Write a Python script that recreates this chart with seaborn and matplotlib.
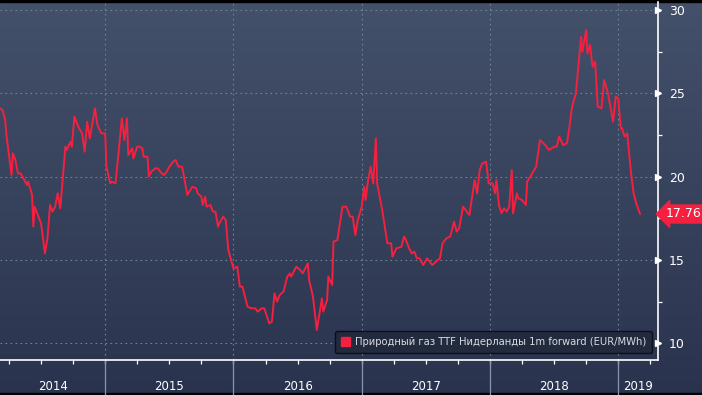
import numpy as np
import pandas as pd
import matplotlib
matplotlib.use('Agg')
import matplotlib.pyplot as plt
from matplotlib.patches import Patch
import seaborn as sns

# TTF 1m forward, decimal year vs EUR/MWh
years = [
    2014.18, 2014.20, 2014.22, 2014.23, 2014.27, 2014.28, 2014.30, 2014.32, 2014.34, 2014.37,
    2014.39, 2014.40, 2014.43, 2014.44, 2014.45, 2014.48, 2014.50, 2014.53, 2014.55, 2014.57,
    2014.59, 2014.61, 2014.63, 2014.65, 2014.69, 2014.70, 2014.73, 2014.74, 2014.76, 2014.79,
    2014.82, 2014.84, 2014.86, 2014.88, 2014.92, 2014.94, 2014.97, 2015.00, 2015.01, 2015.04,
    2015.05, 2015.08, 2015.10, 2015.13, 2015.15, 2015.17, 2015.18, 2015.21, 2015.22, 2015.25,
    2015.27, 2015.29, 2015.30, 2015.33, 2015.34, 2015.36, 2015.39, 2015.41, 2015.44, 2015.46,
    2015.48, 2015.50, 2015.53, 2015.55, 2015.57, 2015.60, 2015.61, 2015.64, 2015.68, 2015.71,
    2015.72, 2015.75, 2015.76, 2015.78, 2015.79, 2015.82, 2015.84, 2015.86, 2015.88, 2015.89,
    2015.92, 2015.94, 2015.96, 2016.00, 2016.03, 2016.05, 2016.07, 2016.11, 2016.14, 2016.17,
    2016.19, 2016.22, 2016.24, 2016.28, 2016.30, 2016.32, 2016.34, 2016.36, 2016.39, 2016.42,
    2016.44, 2016.45, 2016.49, 2016.52, 2016.54, 2016.58, 2016.59, 2016.62, 2016.65, 2016.69,
    2016.70, 2016.73, 2016.74, 2016.77, 2016.78, 2016.81, 2016.83, 2016.85, 2016.88, 2016.91,
    2016.93, 2016.95, 2016.97, 2017.00, 2017.02, 2017.03, 2017.05, 2017.07, 2017.09, 2017.11,
    2017.12, 2017.16, 2017.18, 2017.20, 2017.23, 2017.24, 2017.27, 2017.31, 2017.33, 2017.34,
    2017.37, 2017.39, 2017.41, 2017.43, 2017.45, 2017.48, 2017.51, 2017.55, 2017.58, 2017.61,
    2017.63, 2017.66, 2017.69, 2017.72, 2017.74, 2017.76, 2017.79, 2017.81, 2017.84, 2017.88,
    2017.90, 2017.92, 2017.94, 2017.97, 2017.99, 2018.02, 2018.04, 2018.05, 2018.07, 2018.09,
    2018.11, 2018.13, 2018.15, 2018.17, 2018.18, 2018.21, 2018.22, 2018.25, 2018.28, 2018.29,
    2018.33, 2018.36, 2018.39, 2018.43, 2018.46, 2018.50, 2018.52, 2018.54, 2018.57, 2018.60,
    2018.62, 2018.64, 2018.67, 2018.71, 2018.72, 2018.75, 2018.76, 2018.78, 2018.80, 2018.82,
    2018.84, 2018.87, 2018.89, 2018.92, 2018.96, 2018.98, 2019.00, 2019.02, 2019.03, 2019.05,
    2019.07, 2019.10, 2019.12, 2019.14, 2019.17,
]
prices = [
    24.1, 24.0, 23.4, 22.5, 20.1, 21.4, 21.0, 20.2, 20.2, 19.8,
    19.5, 19.7, 18.9, 17.0, 18.2, 17.6, 17.2, 15.4, 16.3, 18.3,
    17.9, 18.2, 19.0, 18.1, 21.8, 21.6, 22.1, 21.8, 23.6, 23.0,
    22.6, 21.5, 23.3, 22.3, 24.1, 23.1, 22.6, 22.6, 20.6, 19.6,
    19.7, 19.6, 21.1, 23.5, 22.2, 23.5, 21.3, 21.7, 21.1, 21.8,
    21.8, 21.7, 21.2, 21.2, 20.0, 20.3, 20.5, 20.5, 20.2, 20.1,
    20.3, 20.6, 20.9, 21.0, 20.6, 20.6, 20.2, 18.9, 19.4, 19.3,
    19.0, 18.8, 18.3, 18.8, 18.2, 18.3, 17.9, 17.9, 17.0, 17.2,
    17.6, 17.4, 15.6, 14.5, 14.6, 13.4, 13.4, 12.2, 12.1, 12.1,
    11.9, 12.1, 12.1, 11.2, 11.3, 13.0, 12.5, 12.9, 13.1, 14.0,
    14.2, 14.0, 14.6, 14.4, 14.2, 14.8, 13.8, 12.8, 10.8, 12.7,
    11.9, 12.6, 14.0, 13.5, 16.1, 16.2, 17.2, 18.2, 18.2, 17.6,
    17.6, 16.5, 17.4, 18.2, 19.4, 18.6, 19.8, 20.6, 19.6, 22.3,
    19.6, 18.0, 17.0, 16.0, 16.0, 15.2, 15.7, 15.8, 16.4, 16.3,
    15.7, 15.4, 15.5, 15.1, 15.1, 14.7, 15.1, 14.7, 14.9, 15.1,
    16.0, 16.3, 16.4, 17.3, 16.7, 16.9, 18.2, 18.0, 17.7, 19.8,
    19.0, 20.4, 20.8, 20.9, 19.6, 19.6, 19.0, 19.8, 18.3, 17.8,
    18.1, 17.9, 18.2, 20.4, 17.8, 19.0, 18.7, 18.6, 18.3, 19.7,
    20.2, 20.6, 22.2, 21.9, 21.6, 21.8, 21.8, 22.4, 21.9, 22.0,
    23.0, 24.2, 25.0, 28.4, 27.5, 28.8, 27.4, 27.9, 26.6, 26.9,
    24.2, 24.1, 25.8, 25.0, 23.3, 24.8, 24.7, 22.9, 22.9, 22.4,
    22.6, 20.2, 19.0, 18.4, 17.76,
]
year_labels = ['2014', '2015', '2016', '2017', '2018', '2019']
y_ticks = [10, 15, 20, 25, 30]
series_name = 'Природный газ TTF Нидерланды 1m forward (EUR/MWh)'
last_price = prices[-1]

df = pd.DataFrame({'year': years, 'price': prices})

sns.set_theme(style='dark')
plt.rcParams['font.family'] = ['DejaVu Sans']

RED = '#f5203f'
GRID = '#6e8299'

fig = plt.figure(figsize=(7.02, 3.95), dpi=100)

# gradient background over the whole figure
bg = fig.add_axes([0, 0, 1, 1], zorder=-10)
grad = np.linspace(0, 1, 256).reshape(-1, 1)
cmap = matplotlib.colors.LinearSegmentedColormap.from_list('bg', ['#44516b', '#2a334e'])
bg.imshow(grad, aspect='auto', cmap=cmap, extent=[0, 1, 0, 1], origin='upper')
bg.axhspan(0.995, 1.0, color='black')
bg.axhspan(0.0, 0.005, color='black')
bg.set_xlim(0, 1)
bg.set_ylim(0, 1)
bg.axis('off')

ax = fig.add_axes([0, 35 / 395, 658 / 702, 358 / 395])
ax.set_facecolor('none')

sns.lineplot(data=df, x='year', y='price', color=RED, linewidth=1.4, ax=ax)

ax.set_xlim(2014.18, 2019.31)
ax.set_ylim(9.0, 30.48)
ax.set_xlabel('')
ax.set_ylabel('')

# dotted grid
for v in y_ticks:
    ax.axhline(v, color=GRID, linestyle=(0, (1.5, 3)), linewidth=0.8, zorder=0)
for y in range(2015, 2020):
    ax.axvline(y, color=GRID, linestyle=(0, (1.5, 3)), linewidth=0.8, zorder=0)
    ax.axvline(y, ymin=-0.1, ymax=0, color='#8c95aa', linewidth=0.9, clip_on=False)

for s in ['top', 'left']:
    ax.spines[s].set_visible(False)
for s in ['right', 'bottom']:
    ax.spines[s].set_color('white')
    ax.spines[s].set_linewidth(1.2)

# quarter ticks on x, year labels centred in each year
quarters = np.arange(2014.25, 2019.31, 0.25)
ax.set_xticks(quarters)
ax.set_xticklabels([])
ax.tick_params(axis='x', direction='out', length=3, width=0.9, color='white', bottom=True)
xtr = ax.get_xaxis_transform()
for i, lab in enumerate(year_labels):
    lo = max(2014 + i, 2014.18)
    hi = min(2015 + i, 2019.31)
    ax.text((lo + hi) / 2, -0.075, lab, transform=xtr, ha='center', va='center',
            color='white', fontsize=8.5)

# right axis: labelled ticks with small arrows, minor ticks in between
ax.yaxis.tick_right()
ax.set_yticks(y_ticks)
ax.set_yticklabels([str(v) for v in y_ticks], color='white', fontsize=9)
ax.tick_params(axis='y', right=True, length=0, pad=8)
ax.set_yticks([12.5, 17.5, 22.5, 27.5], minor=True)
ax.tick_params(axis='y', which='minor', right=True, length=3, width=0.9, color='white')
ytr = ax.get_yaxis_transform()
ax.plot([1.0] * len(y_ticks), y_ticks, linestyle='none', marker='>', markersize=5,
        color='white', transform=ytr, clip_on=False)

# last value tag
ax.text(1.012, last_price, f'{last_price:.2f}', transform=ytr, ha='left', va='center',
        color='white', fontsize=9,
        bbox=dict(boxstyle='larrow,pad=0.2', facecolor=RED, edgecolor=RED))

leg = ax.legend(handles=[Patch(facecolor=RED, edgecolor=RED, label=series_name)],
                loc='lower right', bbox_to_anchor=(0.999, 0.006), fontsize=7.2,
                frameon=True, fancybox=True, facecolor='#222a3e', edgecolor='#0c0f18',
                handlelength=0.9, handleheight=0.9, handletextpad=0.5,
                borderpad=0.6, framealpha=1)
for t in leg.get_texts():
    t.set_color('#d8dbe2')

fig.savefig('out.png', dpi=100, facecolor=fig.get_facecolor())
